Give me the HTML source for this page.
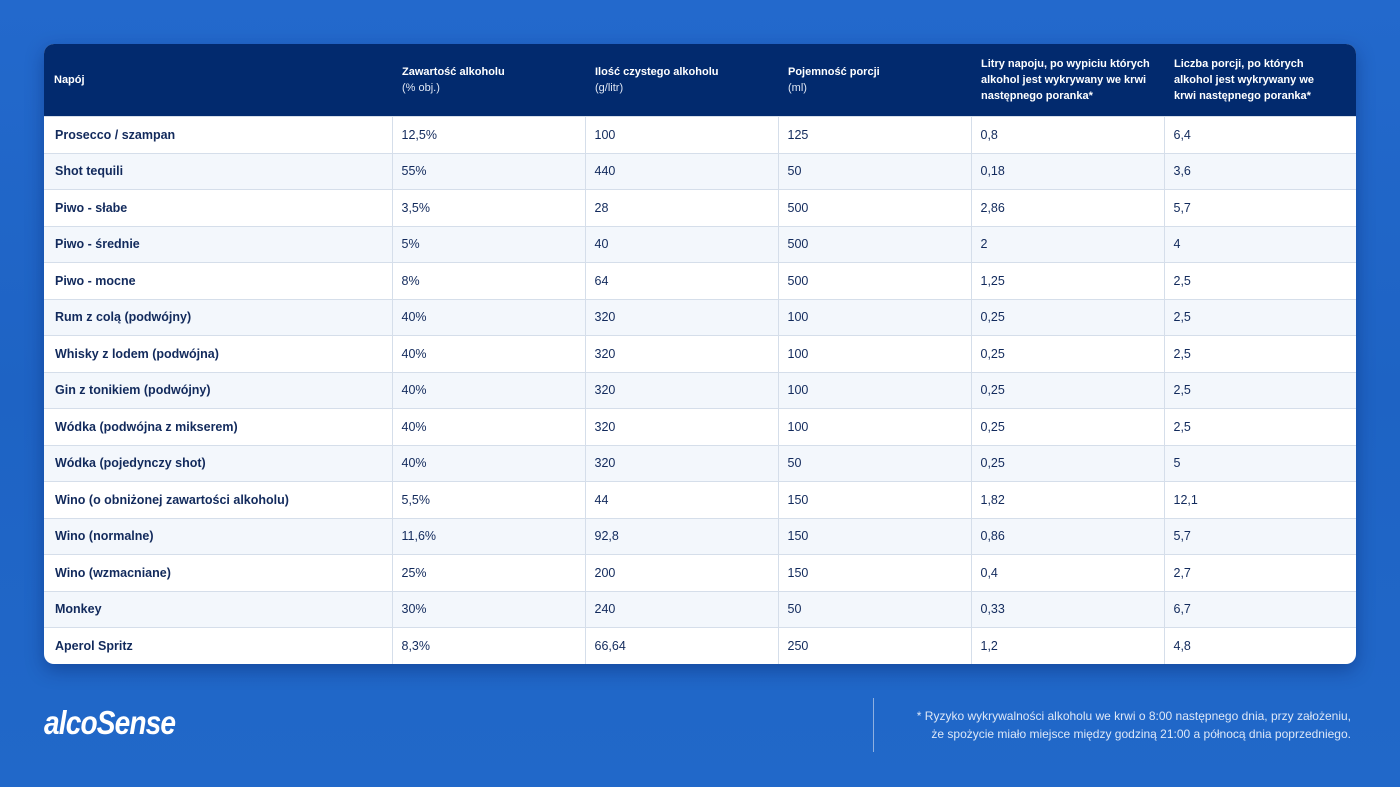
<!DOCTYPE html>
<html><head><meta charset="utf-8"><style>
body{margin:0;width:1400px;height:787px;background:linear-gradient(180deg,#2369cc 0%,#1e63c4 50%,#2168c9 100%);font-family:"Liberation Sans",sans-serif;position:relative;overflow:hidden}
.card{position:absolute;left:44px;top:44px;width:1312px;height:620px;border-radius:10px;overflow:hidden;background:#fff;box-shadow:0 6px 18px rgba(0,20,80,.35)}
table{border-collapse:collapse;width:1312px;table-layout:fixed}
th{background:#022a6e;color:#fff;font-size:11px;font-weight:bold;text-align:left;height:72px;padding:0 4px 0 10px;line-height:16px;vertical-align:middle}
th:last-child{padding-right:28px}
th span{font-weight:normal;color:#dfe6f3}
td{height:35.5px;border-top:1px solid #d5deea;border-left:1px solid #d5deea;font-size:12.5px;color:#122a5c;padding:0 9px;}
td:first-child{border-left:none;font-weight:bold;padding-left:11px}
tr:nth-child(odd) td{background:#f3f7fc}
.logo{position:absolute;left:44px;top:704px;color:#fff;font-size:33px;font-style:italic;font-weight:bold;letter-spacing:-1px;transform:scaleX(.85);transform-origin:left}
.vl{position:absolute;left:873px;top:698px;width:1px;height:54px;background:#8fb0e0}
.note{position:absolute;right:49px;top:707px;color:#dce7f7;font-size:12px;text-align:right;line-height:18px}
</style></head><body>
<div class="card"><table>
<colgroup><col style="width:348px"><col style="width:193px"><col style="width:193px"><col style="width:193px"><col style="width:193px"><col style="width:192px"></colgroup>
<tr><th>Napój</th><th>Zawartość alkoholu<br><span>(% obj.)</span></th><th>Ilość czystego alkoholu<br><span>(g/litr)</span></th><th>Pojemność porcji<br><span>(ml)</span></th><th>Litry napoju, po wypiciu których alkohol jest wykrywany we krwi następnego poranka*</th><th>Liczba porcji, po których alkohol jest wykrywany we krwi następnego poranka*</th></tr>
<tr><td>Prosecco / szampan</td><td>12,5%</td><td>100</td><td>125</td><td>0,8</td><td>6,4</td></tr>
<tr><td>Shot tequili</td><td>55%</td><td>440</td><td>50</td><td>0,18</td><td>3,6</td></tr>
<tr><td>Piwo - słabe</td><td>3,5%</td><td>28</td><td>500</td><td>2,86</td><td>5,7</td></tr>
<tr><td>Piwo - średnie</td><td>5%</td><td>40</td><td>500</td><td>2</td><td>4</td></tr>
<tr><td>Piwo - mocne</td><td>8%</td><td>64</td><td>500</td><td>1,25</td><td>2,5</td></tr>
<tr><td>Rum z colą (podwójny)</td><td>40%</td><td>320</td><td>100</td><td>0,25</td><td>2,5</td></tr>
<tr><td>Whisky z lodem (podwójna)</td><td>40%</td><td>320</td><td>100</td><td>0,25</td><td>2,5</td></tr>
<tr><td>Gin z tonikiem (podwójny)</td><td>40%</td><td>320</td><td>100</td><td>0,25</td><td>2,5</td></tr>
<tr><td>Wódka (podwójna z mikserem)</td><td>40%</td><td>320</td><td>100</td><td>0,25</td><td>2,5</td></tr>
<tr><td>Wódka (pojedynczy shot)</td><td>40%</td><td>320</td><td>50</td><td>0,25</td><td>5</td></tr>
<tr><td>Wino (o obniżonej zawartości alkoholu)</td><td>5,5%</td><td>44</td><td>150</td><td>1,82</td><td>12,1</td></tr>
<tr><td>Wino (normalne)</td><td>11,6%</td><td>92,8</td><td>150</td><td>0,86</td><td>5,7</td></tr>
<tr><td>Wino (wzmacniane)</td><td>25%</td><td>200</td><td>150</td><td>0,4</td><td>2,7</td></tr>
<tr><td>Monkey</td><td>30%</td><td>240</td><td>50</td><td>0,33</td><td>6,7</td></tr>
<tr><td>Aperol Spritz</td><td>8,3%</td><td>66,64</td><td>250</td><td>1,2</td><td>4,8</td></tr>
</table></div>
<div class="logo">alcoSense</div>
<div class="vl"></div>
<div class="note">* Ryzyko wykrywalności alkoholu we krwi o 8:00 następnego dnia, przy założeniu,<br>że spożycie miało miejsce między godziną 21:00 a północą dnia poprzedniego.</div>
</body></html>
